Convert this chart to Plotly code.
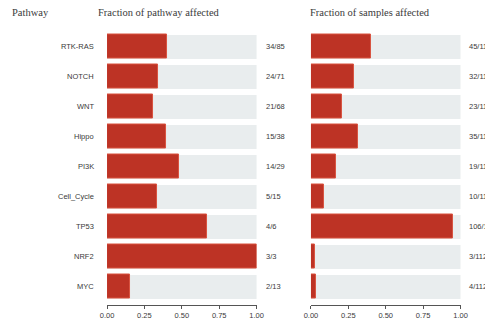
import plotly.graph_objects as go

# Pathway alteration summary
pathways = ["RTK-RAS", "NOTCH", "WNT", "Hippo", "PI3K", "Cell_Cycle", "TP53", "NRF2", "MYC"]
genes_altered = [34, 24, 21, 15, 14, 5, 4, 3, 2]
genes_total = [85, 71, 68, 38, 29, 15, 6, 3, 13]
samples_altered = [45, 32, 23, 35, 19, 10, 106, 3, 4]
sample_total = 112
x_ticks = [0, 0.25, 0.5, 0.75, 1.0]

W, H = 485, 325
RED = "#BD3325"
RED_EDGE = "#D9533F"
GREY = "#E9EDEE"
TXT = "#3a3a3a"

n = len(pathways)
ypos = [n - 1 - i for i in range(n)]  # first pathway at the top

frac_path = [a / t for a, t in zip(genes_altered, genes_total)]
frac_samp = [a / sample_total for a in samples_altered]

fig = go.Figure()
for xa, ya, vals in (("x", "y", frac_path), ("x2", "y2", frac_samp)):
    fig.add_trace(go.Bar(
        x=[1] * n, y=ypos, orientation="h", width=0.77,
        marker=dict(color=GREY, line=dict(width=0)),
        xaxis=xa, yaxis=ya, hoverinfo="skip", showlegend=False))
    fig.add_trace(go.Bar(
        x=vals, y=ypos, orientation="h", width=0.77,
        marker=dict(color=RED, line=dict(color=RED_EDGE, width=1)),
        xaxis=xa, yaxis=ya, showlegend=False))


def px(v):
    return v / W


def py(v):
    return 1 - v / H


ydom = [py(305), py(31.5)]
xaxis_common = dict(
    range=[0, 1], tickvals=x_ticks, tickformat=".2f",
    showgrid=False, zeroline=False, showline=True, linecolor="#555",
    linewidth=1, ticks="outside", ticklen=3, tickcolor="#555",
    tickfont=dict(family="Liberation Sans", size=7.5, color=TXT), fixedrange=True)
yaxis_common = dict(range=[-0.617, n - 0.5], showticklabels=False, showgrid=False,
                    zeroline=False, showline=False, domain=ydom, fixedrange=True)

fig.update_layout(
    width=W, height=H, margin=dict(l=0, r=0, t=0, b=0),
    paper_bgcolor="white", plot_bgcolor="white", barmode="overlay", bargap=0,
    xaxis=dict(domain=[px(103), px(257)], anchor="y", **xaxis_common),
    xaxis2=dict(domain=[px(313), px(467)], anchor="y2", **xaxis_common),
    yaxis=dict(anchor="x", **yaxis_common),
    yaxis2=dict(anchor="x2", **yaxis_common),
)

ann = []
label_font = dict(family="Liberation Sans", size=7.5, color=TXT)
for i, name in enumerate(pathways):
    y = ypos[i]
    ann.append(dict(x=px(92), xref="paper", y=y, yref="y", text=name,
                    xanchor="right", yanchor="middle", showarrow=False, font=label_font))
    ann.append(dict(x=px(265), xref="paper", y=y, yref="y",
                    text=f"{genes_altered[i]}/{genes_total[i]}",
                    xanchor="left", yanchor="middle", showarrow=False, font=label_font))
    ann.append(dict(x=px(474), xref="paper", y=y, yref="y",
                    text=f"{samples_altered[i]}/{sample_total}",
                    xanchor="left", yanchor="middle", showarrow=False, font=label_font))

title_font = dict(family="Liberation Serif", size=10.5, color="#3a3a3a")
ann.append(dict(x=px(3), y=py(12), xref="paper", yref="paper", text="Pathway",
                xanchor="left", yanchor="middle", showarrow=False, font=title_font))
ann.append(dict(x=px(92), y=py(12), xref="paper", yref="paper",
                text="Fraction of pathway affected",
                xanchor="left", yanchor="middle", showarrow=False, font=title_font))
ann.append(dict(x=px(310), y=py(12), xref="paper", yref="paper",
                text="Fraction of samples affected",
                xanchor="left", yanchor="middle", showarrow=False, font=title_font))
fig.update_layout(annotations=ann)

fig.write_html("out.html")
